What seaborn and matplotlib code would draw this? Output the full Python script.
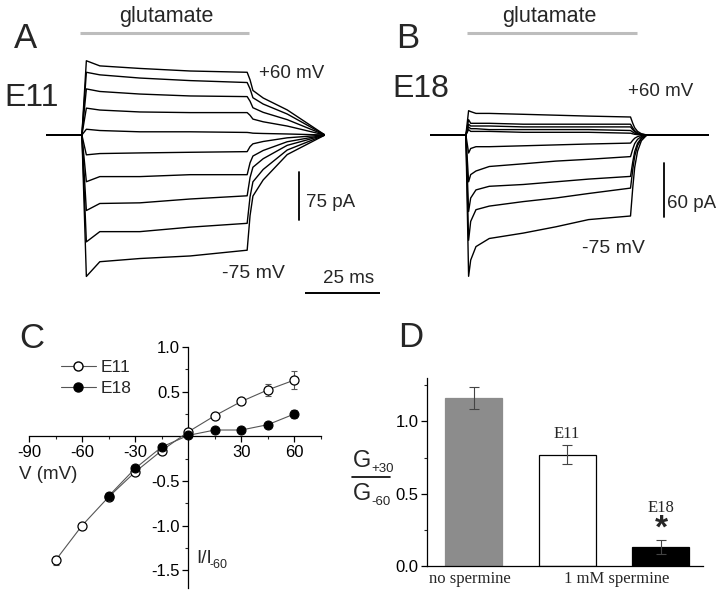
import matplotlib
matplotlib.use("Agg")
import matplotlib.pyplot as plt
from matplotlib.lines import Line2D
import numpy as np
import pandas as pd
import seaborn as sns

# ---- data ----
voltages = [60, 45, 30, 15, 0, -15, -30, -45, -60, -75]

# panel A (E11): current (pA) at knot times (ms after glutamate onset)
a_knot_t = [0, 1.4, 5.6, 18.1, 33.8, 51.6]
a_currents = [
    [0, 116, 108, 104, 100, 98],
    [0, 98, 94, 89, 85, 82],
    [0, 72, 68, 64, 61, 60],
    [0, 42, 39, 36, 35, 35],
    [0, 9, 7, 5, 5, 4],
    [0, -31, -29, -28, -27, -26],
    [0, -73, -65, -65, -62, -62],
    [0, -118, -107, -106, -100, -95],
    [0, -167, -151, -151, -144, -138],
    [0, -221, -198, -193, -189, -180],
]
a_tail_t = [52.5, 53.4, 56.6, 64.1, 75.9]
a_tail_pos = [0.88, 0.71, 0.59, 0.40, 0.0]
a_tail_neg = [0.70, 0.53, 0.39, 0.17, 0.0]

# panel B (E18)
b_knot_t = [0, 0.85, 1.5, 3.15, 7.3, 17.9, 28.1, 38.3, 51.4]
b_currents = [
    [0, 27, 26, 24, 24, 23, 22, 21, 20],
    [0, 17, 13, 13, 13, 12, 12, 12, 12],
    [0, 12, 10, 10, 10, 9, 9, 9, 9],
    [0, 9, 7, 7, 6, 6, 6, 6, 5],
    [0, 6, 4, 4, 4, 3, 3, 3, 2],
    [0, -20, -15, -13, -13, -12, -11, -10, -9],
    [0, -52, -44, -40, -35, -32, -29, -27, -24],
    [0, -85, -70, -61, -57, -55, -52, -49, -46],
    [0, -117, -96, -83, -79, -74, -70, -65, -59],
    [0, -157, -139, -124, -115, -109, -102, -94, -90],
]
b_tail_t = [52.1, 52.7, 53.6, 54.8, 56.5, 75.9]
b_tail_frac = [0.65, 0.40, 0.20, 0.07, 0.0, 0.0]

# panel C: I/I-60 vs V
e11_v = [-75, -60, -45, -30, -15, 0, 15, 30, 45, 60]
e11_i = [-1.39, -1.0, -0.68, -0.40, -0.16, 0.05, 0.23, 0.39, 0.52, 0.63]
e11_err = [0.05, 0.02, 0.02, 0.02, 0.02, 0.02, 0.02, 0.02, 0.07, 0.10]
e18_v = [-45, -30, -15, 0, 15, 30, 45, 60]
e18_i = [-0.67, -0.36, -0.12, 0.01, 0.07, 0.07, 0.13, 0.25]
e18_err = [0.02, 0.02, 0.02, 0.01, 0.01, 0.01, 0.02, 0.04]

# panel D: G+30/G-60
groups = ["no spermine", "E11", "E18"]
ratio = [1.16, 0.77, 0.13]
ratio_err = [0.075, 0.065, 0.05]

T0, T1 = -11.2, 75.9
A_PA_PX = 75 / 48.0
B_PA_PX = 60 / 54.0
W, H = 720, 597

sns.set_theme(style="ticks")
plt.rcParams["font.family"] = ["Liberation Sans", "DejaVu Sans"]
plt.rcParams["axes.unicode_minus"] = False

fig = plt.figure(figsize=(7.2, 5.97), dpi=100)


def rect(l, t, r, b):
    return [l / W, 1 - b / H, (r - l) / W, (b - t) / H]


def ftext(x, y, s, **kw):
    kw.setdefault("va", "baseline")
    fig.text(x / W, 1 - y / H, s, **kw)


def trace_frame(knot_t, currents, tail_t, tails):
    rows = []
    for v, cur, frac in zip(voltages, currents, tails):
        ts = [T0] + knot_t + tail_t
        ys = [0] + cur + [cur[-1] * f for f in frac]
        for t, y in zip(ts, ys):
            rows.append({"t": t, "I": y, "V": v})
    return pd.DataFrame(rows)


# ---- A ----
dfa = trace_frame(a_knot_t, a_currents, a_tail_t,
                  [a_tail_pos if v >= 0 else a_tail_neg for v in voltages])
axA = fig.add_axes(rect(46, 5, 325, 300))
sns.lineplot(data=dfa, x="t", y="I", units="V", estimator=None, sort=False,
             color="black", lw=1.0, ax=axA, legend=False)
axA.set_xlim(T0, T1)
axA.set_ylim((135 - 300) * A_PA_PX, (135 - 5) * A_PA_PX)
axA.axis("off")
axA.plot([-0.6, 52.2], [(135 - 33) * A_PA_PX] * 2, color="#bdbdbd", lw=2.2,
         solid_capstyle="butt")
axA.plot([67.8, 67.8], [-133, -58], color="black", lw=1.3)
axA.plot([69.7, 93.0], [(135 - 293) * A_PA_PX] * 2, color="black", lw=1.4,
         clip_on=False, solid_capstyle="butt")

# ---- B ----
dfb = trace_frame(b_knot_t, b_currents, b_tail_t, [b_tail_frac] * len(voltages))
axB = fig.add_axes(rect(430, 5, 709, 300))
sns.lineplot(data=dfb, x="t", y="I", units="V", estimator=None, sort=False,
             color="black", lw=1.0, ax=axB, legend=False)
axB.set_xlim(T0, T1)
axB.set_ylim((135 - 300) * B_PA_PX, (135 - 5) * B_PA_PX)
axB.axis("off")
axB.plot([0.5, 53.3], [(135 - 33) * B_PA_PX] * 2, color="#bdbdbd", lw=2.2,
         solid_capstyle="butt")
axB.plot([61.75, 61.75], [-91, -31], color="black", lw=1.3)

ftext(14, 48, "A", fontsize=25)
ftext(396, 48, "B", fontsize=25)
ftext(166, 22, "glutamate", fontsize=15.5, ha="center")
ftext(549, 22, "glutamate", fontsize=15.5, ha="center")
ftext(4, 106, "E11", fontsize=23)
ftext(392, 97, "E18", fontsize=23)
ftext(259, 78, "+60 mV", fontsize=13.5)
ftext(222, 278, "-75 mV", fontsize=14)
ftext(628, 96, "+60 mV", fontsize=13.5)
ftext(582, 253, "-75 mV", fontsize=14)
ftext(306, 207, "75 pA", fontsize=13.5)
ftext(667, 208, "60 pA", fontsize=13.5)
ftext(349, 283, "25 ms", fontsize=13.5, ha="center")

# ---- C ----
axC = fig.add_axes(rect(29, 347, 321, 588))
axC.errorbar(e11_v, e11_i, yerr=e11_err, fmt="none", ecolor="#555555",
             elinewidth=0.8, capsize=2.5, capthick=0.8, zorder=2)
axC.errorbar(e18_v, e18_i, yerr=e18_err, fmt="none", ecolor="#555555",
             elinewidth=0.8, capsize=2.5, capthick=0.8, zorder=2)
sns.lineplot(x=e11_v, y=e11_i, ax=axC, color="#555555", lw=0.8, marker="o",
             markersize=6.5, markerfacecolor="white", markeredgecolor="black",
             markeredgewidth=0.9, zorder=3)
sns.lineplot(x=e18_v, y=e18_i, ax=axC, color="#555555", lw=0.8, marker="o",
             markersize=6.5, markerfacecolor="black", markeredgecolor="black",
             zorder=4)
axC.set_xlim(-90, 75)
axC.set_ylim(-1.7, 1.0)
for s in ["top", "right"]:
    axC.spines[s].set_visible(False)
axC.spines["left"].set_position(("data", 0))
axC.spines["bottom"].set_position(("data", 0))
for s in ["left", "bottom"]:
    axC.spines[s].set_linewidth(0.9)
    axC.spines[s].set_color("black")
axC.set_xticks([-90, -60, -30, 30, 60])
axC.set_xticks([-75, -45, -15, 15, 45, 75], minor=True)
axC.set_yticks([-1.5, -1.0, -0.5, 0.5, 1.0])
axC.set_yticks([-1.25, -0.75, -0.25, 0.25, 0.75], minor=True)
axC.set_yticklabels(["%.1f" % v for v in [-1.5, -1.0, -0.5, 0.5, 1.0]])
axC.tick_params(which="major", direction="out", length=4, width=0.9,
                labelsize=12, pad=2, colors="black")
axC.tick_params(which="minor", direction="out", length=2.5, width=0.8)
axC.set_xlabel("")
axC.set_ylabel("")
handles = [
    Line2D([], [], color="#555555", lw=0.8, marker="o", markersize=6.5,
           markerfacecolor="white", markeredgecolor="black"),
    Line2D([], [], color="#555555", lw=0.8, marker="o", markersize=6.5,
           markerfacecolor="black", markeredgecolor="black"),
]
axC.legend(handles, ["E11", "E18"], loc="upper left",
           bbox_to_anchor=(61 / W, 1 - 360 / H), bbox_transform=fig.transFigure,
           frameon=False, fontsize=12.5, handlelength=2.0, handletextpad=0.3,
           borderpad=0, borderaxespad=0, labelspacing=0.35)
ftext(19, 348, "C", fontsize=25)
ftext(19, 479, "V (mV)", fontsize=13.5)
ftext(196, 563, "I/I", fontsize=13.5)
ftext(210, 568, "-60", fontsize=9)

# ---- D ----
axD = fig.add_axes(rect(427, 378, 703, 566))
sns.barplot(x=groups, y=ratio, hue=groups, palette=["#8c8c8c", "white", "black"],
            width=0.61, legend=False, ax=axD, saturation=1)
for p, ec in zip(axD.patches, ["#8c8c8c", "black", "black"]):
    p.set_edgecolor(ec)
    p.set_linewidth(0.9)
axD.errorbar([0, 1, 2], ratio, yerr=ratio_err, fmt="none", ecolor="#444444",
             elinewidth=0.8, capsize=3.5, capthick=0.8)
axD.set_xlim(-0.5, 2.45)
axD.set_ylim(0, 1.3)
sns.despine(ax=axD)
for s in ["left", "bottom"]:
    axD.spines[s].set_linewidth(0.9)
    axD.spines[s].set_color("black")
axD.set_xticks([])
axD.set_yticks([0, 0.5, 1.0])
axD.set_yticks([0.25, 0.75, 1.25], minor=True)
axD.set_yticklabels(["0.0", "0.5", "1.0"])
axD.tick_params(which="major", direction="out", length=4, width=0.9,
                labelsize=12, pad=2, colors="black")
axD.tick_params(which="minor", direction="out", length=2.5, width=0.8)
axD.set_xlabel("")
axD.set_ylabel("")
serif = ["Liberation Serif", "DejaVu Serif"]
ftext(470, 583, "no spermine", fontsize=12, ha="center", family=serif)
ftext(617, 583, "1 mM spermine", fontsize=12, ha="center", family=serif)
ftext(567, 438, "E11", fontsize=12, ha="center", family=serif)
ftext(661, 512, "E18", fontsize=12, ha="center", family=serif)
ftext(661, 538, "*", fontsize=24, ha="center", fontweight="bold")
ftext(398, 347, "D", fontsize=25)
ftext(353, 467, "G", fontsize=17)
ftext(371, 472, "+30", fontsize=9.5)
ftext(353, 500, "G", fontsize=17)
ftext(371, 505, "-60", fontsize=9.5)
fig.add_artist(Line2D([352 / W, 390 / W], [1 - 477 / H, 1 - 477 / H],
                      color="black", lw=1.2))

fig.savefig("out.png", dpi=100)
